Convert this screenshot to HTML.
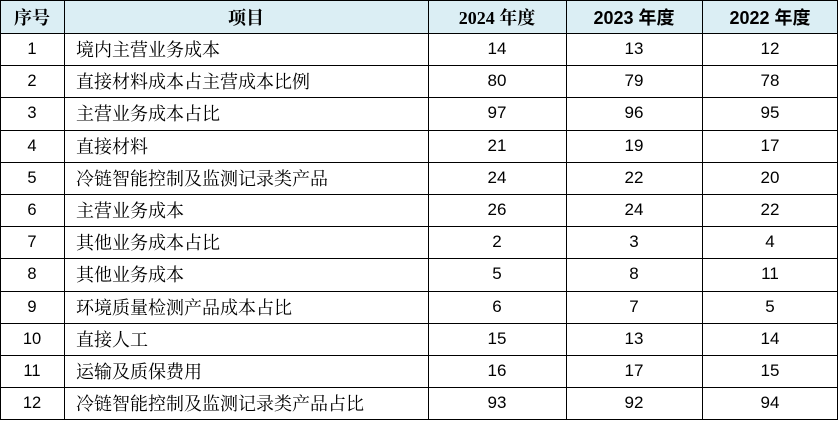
<!DOCTYPE html>
<html>
<head>
<meta charset="utf-8">
<style>
html,body{margin:0;padding:0;background:#fff;}
body{width:840px;height:422px;position:relative;overflow:hidden;}
.hdr{position:absolute;left:0;top:0;width:838px;height:33px;background:#dbeef4;}
.h{position:absolute;background:#000;height:1px;left:0;width:838px;}
.v{position:absolute;background:#000;width:1px;top:0;height:420px;}
.c{position:absolute;display:flex;align-items:center;justify-content:center;white-space:nowrap;color:#000;}
.l{justify-content:flex-start;padding-left:12px;box-sizing:border-box;}
.cj{font-family:"Noto Serif CJK SC","Liberation Serif",serif;font-size:18px;}
.num{font-family:"Liberation Sans","Noto Sans CJK SC",sans-serif;font-size:17px;}
.idx{font-family:"Liberation Sans","Noto Sans CJK SC",sans-serif;font-size:16.5px;}
.hb{font-weight:bold;font-size:18px;}
.hs{font-family:"Liberation Serif","Noto Serif CJK SC",serif;}
.hc{font-family:"Noto Serif CJK SC",serif;}
.ha{font-family:"Liberation Sans","Noto Sans CJK SC",sans-serif;}
</style>
</head>
<body>
<div class="hdr"></div>

<div class="c hb hc" style="left:0;top:0;width:64px;height:33px;">序号</div>
<div class="c hb hc" style="left:64px;top:0;width:364px;height:33px;">项目</div>
<div class="c hb hs" style="left:428px;top:0;width:138px;height:33px;">2024 年度</div>
<div class="c hb ha" style="left:566px;top:0;width:136px;height:33px;">2023 年度</div>
<div class="c hb ha" style="left:702px;top:0;width:136px;height:33px;">2022 年度</div>

<div class="c idx" style="left:0;top:33px;width:64px;height:32px;">1</div>
<div class="c cj l" style="left:64px;top:33px;width:364px;height:32px;">境内主营业务成本</div>
<div class="c num" style="left:428px;top:33px;width:138px;height:32px;">14</div>
<div class="c num" style="left:566px;top:33px;width:136px;height:32px;">13</div>
<div class="c num" style="left:702px;top:33px;width:136px;height:32px;">12</div>

<div class="c idx" style="left:0;top:65px;width:64px;height:32px;">2</div>
<div class="c cj l" style="left:64px;top:65px;width:364px;height:32px;">直接材料成本占主营成本比例</div>
<div class="c num" style="left:428px;top:65px;width:138px;height:32px;">80</div>
<div class="c num" style="left:566px;top:65px;width:136px;height:32px;">79</div>
<div class="c num" style="left:702px;top:65px;width:136px;height:32px;">78</div>

<div class="c idx" style="left:0;top:97px;width:64px;height:32px;">3</div>
<div class="c cj l" style="left:64px;top:97px;width:364px;height:32px;">主营业务成本占比</div>
<div class="c num" style="left:428px;top:97px;width:138px;height:32px;">97</div>
<div class="c num" style="left:566px;top:97px;width:136px;height:32px;">96</div>
<div class="c num" style="left:702px;top:97px;width:136px;height:32px;">95</div>

<div class="c idx" style="left:0;top:130px;width:64px;height:32px;">4</div>
<div class="c cj l" style="left:64px;top:130px;width:364px;height:32px;">直接材料</div>
<div class="c num" style="left:428px;top:130px;width:138px;height:32px;">21</div>
<div class="c num" style="left:566px;top:130px;width:136px;height:32px;">19</div>
<div class="c num" style="left:702px;top:130px;width:136px;height:32px;">17</div>

<div class="c idx" style="left:0;top:162px;width:64px;height:32px;">5</div>
<div class="c cj l" style="left:64px;top:162px;width:364px;height:32px;">冷链智能控制及监测记录类产品</div>
<div class="c num" style="left:428px;top:162px;width:138px;height:32px;">24</div>
<div class="c num" style="left:566px;top:162px;width:136px;height:32px;">22</div>
<div class="c num" style="left:702px;top:162px;width:136px;height:32px;">20</div>

<div class="c idx" style="left:0;top:194px;width:64px;height:32px;">6</div>
<div class="c cj l" style="left:64px;top:194px;width:364px;height:32px;">主营业务成本</div>
<div class="c num" style="left:428px;top:194px;width:138px;height:32px;">26</div>
<div class="c num" style="left:566px;top:194px;width:136px;height:32px;">24</div>
<div class="c num" style="left:702px;top:194px;width:136px;height:32px;">22</div>

<div class="c idx" style="left:0;top:226px;width:64px;height:32px;">7</div>
<div class="c cj l" style="left:64px;top:226px;width:364px;height:32px;">其他业务成本占比</div>
<div class="c num" style="left:428px;top:226px;width:138px;height:32px;">2</div>
<div class="c num" style="left:566px;top:226px;width:136px;height:32px;">3</div>
<div class="c num" style="left:702px;top:226px;width:136px;height:32px;">4</div>

<div class="c idx" style="left:0;top:258px;width:64px;height:32px;">8</div>
<div class="c cj l" style="left:64px;top:258px;width:364px;height:32px;">其他业务成本</div>
<div class="c num" style="left:428px;top:258px;width:138px;height:32px;">5</div>
<div class="c num" style="left:566px;top:258px;width:136px;height:32px;">8</div>
<div class="c num" style="left:702px;top:258px;width:136px;height:32px;">11</div>

<div class="c idx" style="left:0;top:291px;width:64px;height:32px;">9</div>
<div class="c cj l" style="left:64px;top:291px;width:364px;height:32px;">环境质量检测产品成本占比</div>
<div class="c num" style="left:428px;top:291px;width:138px;height:32px;">6</div>
<div class="c num" style="left:566px;top:291px;width:136px;height:32px;">7</div>
<div class="c num" style="left:702px;top:291px;width:136px;height:32px;">5</div>

<div class="c idx" style="left:0;top:323px;width:64px;height:32px;">10</div>
<div class="c cj l" style="left:64px;top:323px;width:364px;height:32px;">直接人工</div>
<div class="c num" style="left:428px;top:323px;width:138px;height:32px;">15</div>
<div class="c num" style="left:566px;top:323px;width:136px;height:32px;">13</div>
<div class="c num" style="left:702px;top:323px;width:136px;height:32px;">14</div>

<div class="c idx" style="left:0;top:355px;width:64px;height:32px;">11</div>
<div class="c cj l" style="left:64px;top:355px;width:364px;height:32px;">运输及质保费用</div>
<div class="c num" style="left:428px;top:355px;width:138px;height:32px;">16</div>
<div class="c num" style="left:566px;top:355px;width:136px;height:32px;">17</div>
<div class="c num" style="left:702px;top:355px;width:136px;height:32px;">15</div>

<div class="c idx" style="left:0;top:387px;width:64px;height:32px;">12</div>
<div class="c cj l" style="left:64px;top:387px;width:364px;height:32px;">冷链智能控制及监测记录类产品占比</div>
<div class="c num" style="left:428px;top:387px;width:138px;height:32px;">93</div>
<div class="c num" style="left:566px;top:387px;width:136px;height:32px;">92</div>
<div class="c num" style="left:702px;top:387px;width:136px;height:32px;">94</div>

<div class="h" style="top:0;"></div>
<div class="h" style="top:33px;"></div>
<div class="h" style="top:65px;"></div>
<div class="h" style="top:97px;"></div>
<div class="h" style="top:130px;"></div>
<div class="h" style="top:162px;"></div>
<div class="h" style="top:194px;"></div>
<div class="h" style="top:226px;"></div>
<div class="h" style="top:258px;"></div>
<div class="h" style="top:291px;"></div>
<div class="h" style="top:323px;"></div>
<div class="h" style="top:355px;"></div>
<div class="h" style="top:387px;"></div>
<div class="h" style="top:419px;"></div>

<div class="v" style="left:0;"></div>
<div class="v" style="left:64px;"></div>
<div class="v" style="left:428px;"></div>
<div class="v" style="left:566px;"></div>
<div class="v" style="left:702px;"></div>
<div class="v" style="left:837px;"></div>
</body>
</html>
